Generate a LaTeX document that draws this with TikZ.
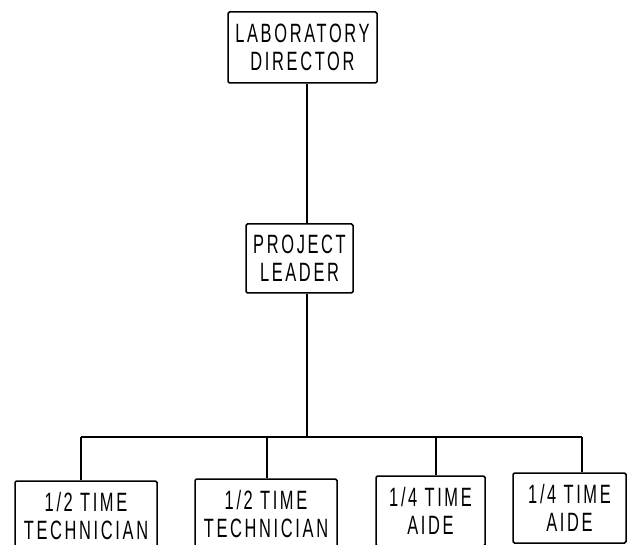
\documentclass[tikz,border=0pt]{standalone}
\usepackage{fontspec}
\newfontfamily\lettering[FakeStretch=0.62,LetterSpace=10]{Liberation Sans}
\begin{document}
\begin{tikzpicture}[x=1pt, y=-1pt, line width=1.5pt,
    orgbox/.style={draw, rounded corners=1.5pt, align=center, inner sep=2pt,
        font=\lettering\fontsize{26.5}{28}\selectfont}]
    % Page frame
    \useasboundingbox (0, 0) rectangle (629, 545);

    % Top of the chart
    \node[orgbox, minimum width=149, minimum height=71] (dir) at (302.5, 47.5) {LABORATORY\\DIRECTOR};
    \node[orgbox, minimum width=107, minimum height=69] (lead) at (299.5, 258.5) {PROJECT\\LEADER};

    % Staff boxes along the bottom (cut off by the page edge)
    \node[orgbox, minimum width=142, minimum height=70] (b1) at (86, 516) {1/2 TIME\\TECHNICIAN};
    \node[orgbox, minimum width=142, minimum height=70] (b2) at (266, 514) {1/2 TIME\\TECHNICIAN};
    \node[orgbox, minimum width=109, minimum height=70] (b3) at (430.5, 511) {1/4 TIME\\AIDE};
    \node[orgbox, minimum width=113, minimum height=70] (b4) at (569.5, 508) {1/4 TIME\\AIDE};

    % Junction points on the bus
    \coordinate (j) at (307, 437);
    \coordinate (s1) at (81, 437);
    \coordinate (s2) at (267, 437);
    \coordinate (s3) at (436, 437);
    \coordinate (s4) at (582, 437);

    % Lines
    \draw (j |- dir.south) -- (j |- lead.north);
    \draw (j |- lead.south) -- (j);
    \draw (s1) -- (s4);
    \foreach \i in {1, 2, 3, 4}
    \draw (s\i) -- (s\i |- b\i.north);
\end{tikzpicture}
\end{document}
